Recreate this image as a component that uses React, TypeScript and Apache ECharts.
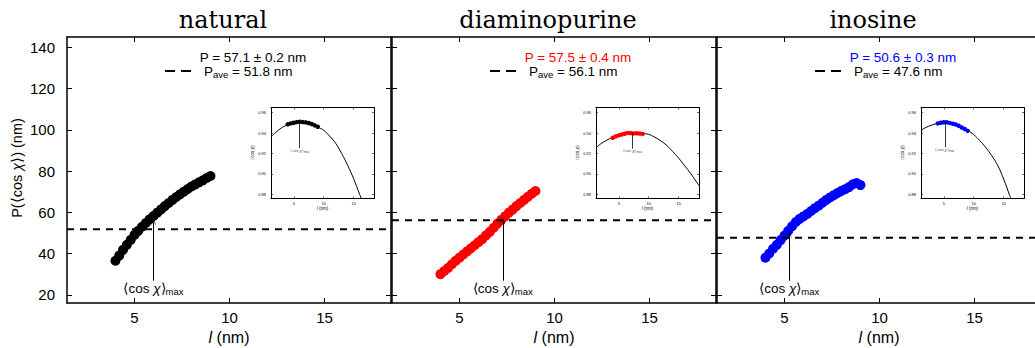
import React, { useEffect, useRef } from "react";
import * as echarts from "echarts";

// ---------- data ----------
const panelNames = ["natural", "diaminopurine", "inosine"];
const panelColors = ["#000000", "#ff0000", "#0000ff"];
const fitLabels = ["P = 57.1 ± 0.2 nm", "P = 57.5 ± 0.4 nm", "P = 50.6 ± 0.3 nm"];
const aveValues = [51.8, 56.1, 47.6];

const lengths = [4.0, 4.2, 4.4, 4.6, 4.8, 5.0, 5.2, 5.4, 5.6, 5.8, 6.0, 6.2, 6.4, 6.6, 6.8, 7.0, 7.2, 7.4, 7.6, 7.8, 8.0, 8.2, 8.4, 8.6, 8.8, 9.0];
const naturalP = [36.5, 39, 41.8, 44.2, 46.6, 49, 51, 53, 54.8, 56.6, 58.2, 59.8, 61.4, 63, 64.5, 66, 67.4, 68.7, 70, 71.3, 72.5, 73.5, 74.5, 75.5, 76.6, 77.6];
const diaminoP = [30, 31.5, 33, 34.8, 36.5, 38, 39.5, 41, 42.5, 44, 45.5, 47, 48.8, 50.5, 52.5, 54.5, 56.3, 58, 59.8, 61.3, 63, 64.5, 66, 67.5, 69, 70.3];
const inosineP = [38, 40, 42.3, 44.2, 46.5, 48.7, 51, 53.2, 55.3, 56.8, 58, 59.2, 60.6, 62, 63.2, 64.6, 66, 67.2, 68.3, 69.4, 70.4, 71.2, 72.2, 73.6, 74.2, 73.2];
const mainP = [naturalP, diaminoP, inosineP];

const arrowL = [6.0, 7.28, 5.25];
const arrowTipP = [55, 55.5, 49];
const arrowBaseP = 26.8;
const arrowLabelP = 23.2;

const yTicks = [20, 40, 60, 80, 100, 120, 140];
const xTicks = [5, 10, 15];

// insets: <cos chi> vs l
const insetYTicks = [0.88, 0.9, 0.92, 0.94, 0.96];
const insetL = [4.0, 4.5, 5.0, 5.5, 6.0, 6.5, 7.0, 7.5, 8.0, 8.5, 9.0];
const naturalCos = [0.9486, 0.9495, 0.9502, 0.9508, 0.9512, 0.9508, 0.9505, 0.9499, 0.9489, 0.9476, 0.9463];
const diaminoCos = [0.9355, 0.9368, 0.9378, 0.9386, 0.9393, 0.9402, 0.94, 0.9397, 0.9399, 0.9396, 0.9392];
const inosineCos = [0.9495, 0.9502, 0.9506, 0.9506, 0.95, 0.9492, 0.9484, 0.9472, 0.9455, 0.944, 0.9422];
const insetCos = [naturalCos, diaminoCos, inosineCos];

const naturalCurveL = [1.2, 2.4, 3.5, 5.0, 6.0, 7.0, 8.0, 9.0, 10.0, 11.0, 12.0, 13.0, 14.0, 15.0, 16.0, 16.3];
const naturalCurveCos = [0.9361, 0.9427, 0.9469, 0.9502, 0.9513, 0.9508, 0.949, 0.946, 0.9427, 0.937, 0.93, 0.92, 0.9085, 0.8953, 0.88, 0.8757];
const diaminoCurveL = [1.2, 2.0, 3.0, 4.0, 5.0, 6.0, 7.0, 8.0, 9.0, 10.0, 11.0, 12.0, 13.0, 14.0, 15.0, 16.0, 17.0, 18.0, 18.4];
const diaminoCurveCos = [0.9257, 0.9295, 0.9331, 0.9357, 0.9378, 0.9392, 0.9399, 0.9401, 0.9397, 0.9388, 0.936, 0.9325, 0.928, 0.922, 0.9155, 0.908, 0.9005, 0.892, 0.8885];
const inosineCurveL = [1.2, 2.0, 3.0, 4.0, 5.0, 6.0, 7.0, 8.0, 9.0, 10.0, 11.0, 12.0, 13.0, 14.0, 15.0, 16.0, 16.2];
const inosineCurveCos = [0.9427, 0.9455, 0.9478, 0.9496, 0.9506, 0.9503, 0.949, 0.9462, 0.9428, 0.9385, 0.9328, 0.926, 0.918, 0.9085, 0.895, 0.879, 0.8757];
const curveL = [naturalCurveL, diaminoCurveL, inosineCurveL];
const curveCos = [naturalCurveCos, diaminoCurveCos, inosineCurveCos];

const insetArrowL = [6.0, 7.28, 5.17];
const insetArrowTop = [0.9505, 0.9396, 0.9504];
const insetArrowBottom = [0.9254, 0.9247, 0.9263];
const insetLabelCos = [0.9232, 0.9226, 0.9241];

// ---------- layout ----------
const PANEL_LEFTS = [67, 392, 717];
const PANEL_TOP = 37;
const PANEL_W = 324;
const PANEL_H = 266;
const INSET_DX = 204;
const INSET_TOP = 107.5;
const INSET_W = 103;
const INSET_H = 91;
const X_MIN = 1.45, X_MAX = 18.5, Y_MIN = 16, Y_MAX = 145;
const IX_MIN = 1.2, IX_MAX = 18.4, IY_MIN = 0.8759, IY_MAX = 0.9651;
const SANS = '"Liberation Sans", Arial, Helvetica, sans-serif';
const SERIF = '"DejaVu Serif", serif';
const ARROW = "path://M0,10L5,0L10,10L5,3Z";

function buildOption() {
  const grid: any[] = [];
  const xAxis: any[] = [];
  const yAxis: any[] = [];
  const series: any[] = [];
  const graphic: any[] = [];

  const addAxes = (gi: number, c: any) => {
    const line = { show: true, onZero: false, lineStyle: { color: "#000", width: c.lw } };
    const tick = (vals: number[]) => ({ show: true, inside: true, length: c.tl, customValues: vals, lineStyle: { color: "#000", width: c.tw } });
    xAxis.push({
      type: "value", gridIndex: gi, position: "bottom", min: c.xmin, max: c.xmax,
      axisLine: line, axisTick: tick(xTicks), splitLine: { show: false },
      axisLabel: { show: true, customValues: xTicks, fontSize: c.fs, fontFamily: SANS, color: "#000", margin: c.xm },
      name: "{i|l} (nm)", nameLocation: "middle", nameGap: c.nameGap,
      nameTextStyle: { fontSize: c.nfs, fontFamily: SANS, color: "#000", rich: { i: { fontStyle: "italic", fontSize: c.nfs, fontFamily: SANS, color: "#000" } } },
    });
    xAxis.push({
      type: "value", gridIndex: gi, position: "top", min: c.xmin, max: c.xmax,
      axisLine: line, axisTick: tick(xTicks), splitLine: { show: false }, axisLabel: { show: false },
    });
    yAxis.push({
      type: "value", gridIndex: gi, position: "left", min: c.ymin, max: c.ymax,
      axisLine: line, axisTick: tick(c.yTicks), splitLine: { show: false },
      axisLabel: { show: c.showY, customValues: c.yTicks, fontSize: c.fs, fontFamily: SANS, color: "#000", margin: c.ym, formatter: c.yfmt },
    });
    yAxis.push({
      type: "value", gridIndex: gi, position: "right", min: c.ymin, max: c.ymax,
      axisLine: line, axisTick: tick(c.yTicks), splitLine: { show: false }, axisLabel: { show: false },
    });
  };

  const labelRich = (fs: number, sfs: number, pad: number) => ({
    m: { fontSize: fs, fontFamily: SANS, color: "#000", textBorderWidth: 0 },
    c: { fontSize: fs, fontFamily: SANS, fontStyle: "italic", color: "#000", textBorderWidth: 0 },
    s: { fontSize: sfs, fontFamily: SANS, color: "#000", padding: [pad, 0, 0, 0], textBorderWidth: 0 },
  });

  // main panels
  for (let g = 0; g < 3; g++) {
    const left = PANEL_LEFTS[g];
    grid.push({ left, top: PANEL_TOP, width: PANEL_W, height: PANEL_H, containLabel: false, outerBoundsMode: "none" });
    addAxes(g, {
      xmin: X_MIN, xmax: X_MAX, ymin: Y_MIN, ymax: Y_MAX, yTicks, lw: 1.5, tl: 5, tw: 1,
      fs: 15, xm: 7, ym: 12, showY: g === 0, nameGap: 24, nfs: 16,
      yfmt: (v: number) => String(v),
    });
    const xi = 2 * g, yi = 2 * g;
    series.push({
      type: "scatter", xAxisIndex: xi, yAxisIndex: yi, silent: true, z: 2,
      data: lengths.map((l, i) => [l, mainP[g][i]]),
      symbol: "circle", symbolSize: 10, itemStyle: { color: panelColors[g], opacity: 1 },
    });
    series.push({
      type: "line", xAxisIndex: xi, yAxisIndex: yi, silent: true, z: 3,
      data: [[X_MIN, aveValues[g]], [X_MAX, aveValues[g]]], symbol: "none",
      lineStyle: { color: "#000", width: 2, type: [7, 6] },
    });
    series.push({
      type: "scatter", xAxisIndex: xi, yAxisIndex: yi, silent: true, z: 4,
      data: [[arrowL[g], arrowLabelP]], symbolSize: 1, itemStyle: { color: "rgba(0,0,0,0)" },
      label: {
        show: true, position: "inside", formatter: "{m|⟨cos }{c|χ}{m|⟩}{s|max}", color: "#000",
        textBorderWidth: 0, opacity: 1, rich: labelRich(13.5, 9.5, 6),
      },
      markLine: {
        silent: true, symbol: ["none", ARROW], symbolSize: [6, 8],
        lineStyle: { color: "#000", width: 1, type: "solid" }, label: { show: false },
        emphasis: { disabled: true },
        data: [[{ coord: [arrowL[g], arrowBaseP] }, { coord: [arrowL[g], arrowTipP[g]] }]],
      },
    });

    // title
    graphic.push({
      type: "text", x: left + PANEL_W / 2 - 6, y: 20, silent: true,
      style: { text: panelNames[g], fill: "#000", font: `24px ${SERIF}`, textAlign: "center", textVerticalAlign: "middle", align: "center", verticalAlign: "middle" },
    });
    // legend
    graphic.push({
      type: "text", x: left + 186, y: 57, silent: true,
      style: { text: fitLabels[g], fill: panelColors[g], font: `13.5px ${SANS}`, textAlign: "center", textVerticalAlign: "middle", align: "center", verticalAlign: "middle" },
    });
    graphic.push({
      type: "line", silent: true,
      shape: { x1: left + 98, y1: 71, x2: left + 126, y2: 71 },
      style: { stroke: "#000", lineWidth: 2, lineDash: [10, 6] },
    });
    graphic.push({
      type: "text", x: left + 137, y: 71, silent: true,
      style: {
        text: `{m|P}{s|ave}{m| = ${aveValues[g].toFixed(1)} nm}`, fill: "#000",
        textAlign: "left", textVerticalAlign: "middle", align: "left", verticalAlign: "middle",
        rich: {
          m: { fontSize: 13.5, fontFamily: SANS, fill: "#000", color: "#000" },
          s: { fontSize: 9.5, fontFamily: SANS, fill: "#000", color: "#000", padding: [6, 0, 0, 0] },
        },
      },
    });
    // inset y-axis name
    graphic.push({
      type: "text", x: left + INSET_DX - 19, y: INSET_TOP + 45, rotation: Math.PI / 2, silent: true,
      style: {
        text: "{m|⟨cos }{c|χ}{m|⟩}", textAlign: "center", textVerticalAlign: "middle", align: "center", verticalAlign: "middle",
        rich: {
          m: { fontSize: 4.5, fontFamily: SANS, fill: "#000", color: "#000" },
          c: { fontSize: 4.5, fontFamily: SANS, fontStyle: "italic", fill: "#000", color: "#000" },
        },
      },
    });
  }

  // insets
  for (let g = 0; g < 3; g++) {
    const gi = 3 + g;
    grid.push({ left: PANEL_LEFTS[g] + INSET_DX, top: INSET_TOP, width: INSET_W, height: INSET_H, containLabel: false, outerBoundsMode: "none" });
    addAxes(gi, {
      xmin: IX_MIN, xmax: IX_MAX, ymin: IY_MIN, ymax: IY_MAX, yTicks: insetYTicks, lw: 1, tl: 2, tw: 0.6,
      fs: 4, xm: 2.5, ym: 5, showY: true, nameGap: 6, nfs: 4.5,
      yfmt: (v: number) => v.toFixed(2),
    });
    const xi = 2 * gi, yi = 2 * gi;
    series.push({
      type: "line", xAxisIndex: xi, yAxisIndex: yi, silent: true, z: 2, smooth: 0.4, clip: true,
      data: curveL[g].map((l, i) => [l, curveCos[g][i]]), symbol: "none",
      lineStyle: { color: "#000", width: 1 },
    });
    series.push({
      type: "scatter", xAxisIndex: xi, yAxisIndex: yi, silent: true, z: 3,
      data: insetL.map((l, i) => [l, insetCos[g][i]]),
      symbol: "circle", symbolSize: 4.5, itemStyle: { color: panelColors[g], opacity: 1 },
    });
    series.push({
      type: "scatter", xAxisIndex: xi, yAxisIndex: yi, silent: true, z: 4,
      data: [[insetArrowL[g], insetLabelCos[g]]], symbolSize: 1, itemStyle: { color: "rgba(0,0,0,0)" },
      label: {
        show: true, position: "inside", formatter: "{m|⟨cos }{c|χ}{m|⟩}{s|max}", color: "#000",
        textBorderWidth: 0, rich: labelRich(4, 3, 2),
      },
      markLine: {
        silent: true, symbol: ["none", ARROW], symbolSize: [2.5, 3],
        lineStyle: { color: "#000", width: 0.8, type: "solid" }, label: { show: false },
        emphasis: { disabled: true },
        data: [[{ coord: [insetArrowL[g], insetArrowBottom[g]] }, { coord: [insetArrowL[g], insetArrowTop[g]] }]],
      },
    });
  }

  // main y-axis label
  graphic.push({
    type: "text", x: 17, y: 168, rotation: Math.PI / 2, silent: true,
    style: {
      text: "{m|P(⟨cos }{c|χ}{m|⟩) (nm)}", textAlign: "center", textVerticalAlign: "middle", align: "center", verticalAlign: "middle",
      rich: {
        m: { fontSize: 14.5, fontFamily: SANS, fill: "#000", color: "#000" },
        c: { fontSize: 14.5, fontFamily: SANS, fontStyle: "italic", fill: "#000", color: "#000" },
      },
    },
  });

  return {
    animation: false,
    backgroundColor: "#ffffff",
    grid, xAxis, yAxis, series, graphic,
  };
}

export default function App() {
  const ref = useRef<HTMLDivElement>(null);
  useEffect(() => {
    if (!ref.current) return;
    const chart = echarts.init(ref.current, undefined, { renderer: "svg" });
    chart.setOption(buildOption() as any);
    return () => chart.dispose();
  }, []);
  return (
    <div
      ref={ref}
      style={{ position: "fixed", left: 0, top: 0, width: 1035, height: 348, background: "#fff" }}
    />
  );
}
